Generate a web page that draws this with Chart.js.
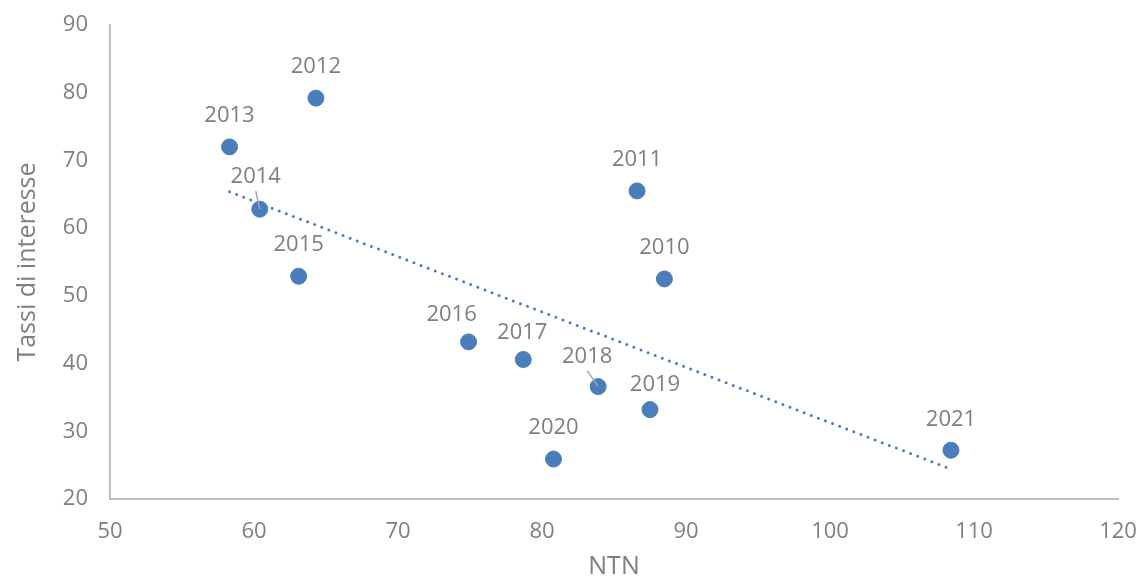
<!DOCTYPE html>
<html>
<head>
<meta charset="utf-8">
<title>Tassi di interesse vs NTN</title>
<script src="https://cdn.jsdelivr.net/npm/chart.js"></script>
<style>
  html, body { margin: 0; padding: 0; background: #ffffff; }
  #wrap { width: 1144px; height: 576px; }
</style>
</head>
<body>
<div id="wrap"><canvas id="myChart" width="1144" height="576"></canvas></div>
<script>
// data
const years = ['2010', '2011', '2012', '2013', '2014', '2015', '2016', '2017', '2018', '2019', '2020', '2021'];
const ntn = [88.5, 86.6, 64.3, 58.3, 60.4, 63.1, 74.9, 78.7, 83.9, 87.5, 80.8, 108.4];
const tassi = [52.5, 65.5, 79.2, 72.0, 62.8, 52.9, 43.2, 40.6, 36.6, 33.2, 25.9, 27.2];
const xTicks = [50, 60, 70, 80, 90, 100, 110, 120];
const yTicks = [20, 30, 40, 50, 60, 70, 80, 90];

// label nudges (dx, dy from point), leader line where Excel drew one
const labelShift = {
    '2014': [-4, -32, true],
    '2016': [-17, -27, false],
    '2017': [-1, -27, false],
    '2018': [-11, -30, true],
    '2019': [5, -25, false],
};

const grey = '#7f7f7f';
const blue = '#4a7ebb';
const fontFam = '"Open Sans", sans-serif';

// linear trend (least squares) over the points
function trend(xs, ys) {
    const n = xs.length;
    const mx = xs.reduce((a, b) => a + b, 0) / n;
    const my = ys.reduce((a, b) => a + b, 0) / n;
    let sxy = 0, sxx = 0;
    for (let i = 0; i < n; i++) {
        sxy += (xs[i] - mx) * (ys[i] - my);
        sxx += (xs[i] - mx) * (xs[i] - mx);
    }
    const b = sxy / sxx;
    const a = my - b * mx;
    const x0 = Math.min(...xs), x1 = Math.max(...xs);
    return [{ x: x0, y: a + b * x0 }, { x: x1, y: a + b * x1 }];
}

const points = ntn.map((v, i) => ({ x: v, y: tassi[i] }));

const yearLabels = {
    id: 'yearLabels',
    afterDatasetsDraw(chart) {
        const ctx = chart.ctx;
        const meta = chart.getDatasetMeta(1);
        ctx.save();
        ctx.font = '22px ' + fontFam;
        ctx.fillStyle = grey;
        ctx.textAlign = 'center';
        ctx.textBaseline = 'middle';
        meta.data.forEach((el, i) => {
            const s = labelShift[years[i]] || [0, -31, false];
            const lx = el.x + s[0], ly = el.y + s[1];
            if (s[2]) {
                ctx.strokeStyle = '#a6a6a6';
                ctx.lineWidth = 1.5;
                ctx.beginPath();
                ctx.moveTo(lx, ly + 14);
                ctx.lineTo(el.x, el.y);
                ctx.stroke();
            }
            ctx.fillText(years[i], lx, ly);
        });
        ctx.restore();
    }
};

const ctx = document.getElementById('myChart').getContext('2d');
new Chart(ctx, {
    type: 'scatter',
    data: {
        datasets: [{
            type: 'line',
            data: trend(ntn, tassi),
            borderColor: blue,
            borderWidth: 3,
            borderDash: [0, 7.6],
            borderCapStyle: 'round',
            pointRadius: 0,
            fill: false,
        }, {
            data: points,
            backgroundColor: blue,
            borderColor: blue,
            pointRadius: 8,
            pointHoverRadius: 8,
        }],
    },
    options: {
        responsive: false,
        animation: false,
        events: [],
        layout: { padding: { left: 0, right: 26, top: 25, bottom: 0 } },
        plugins: { legend: { display: false }, tooltip: { enabled: false } },
        scales: {
            x: {
                type: 'linear',
                min: 50,
                max: 120,
                afterBuildTicks: (s) => { s.ticks = xTicks.map(v => ({ value: v })); },
                afterFit: (s) => { s.height = 77; s.paddingLeft = 0; s.paddingRight = 0; },
                grid: { display: false, drawTicks: false },
                border: { color: '#bfbfbf', width: 2 },
                ticks: { color: grey, font: { family: fontFam, size: 22 }, padding: 20 },
                title: { display: true, text: 'NTN', color: grey, font: { family: fontFam, size: 25 }, padding: { top: 0, bottom: -6 } },
            },
            y: {
                type: 'linear',
                min: 20,
                max: 90,
                afterBuildTicks: (s) => { s.ticks = yTicks.map(v => ({ value: v })); },
                afterFit: (s) => { s.width = 110; s.paddingTop = 0; s.paddingBottom = 0; },
                grid: { display: false, drawTicks: false },
                border: { color: '#bfbfbf', width: 2 },
                ticks: { color: grey, font: { family: fontFam, size: 22 }, padding: 22 },
                title: { display: true, text: 'Tassi di interesse', color: grey, font: { family: fontFam, size: 25 }, padding: { top: 13, bottom: 0 } },
            },
        },
    },
    plugins: [yearLabels],
});
</script>
</body>
</html>
